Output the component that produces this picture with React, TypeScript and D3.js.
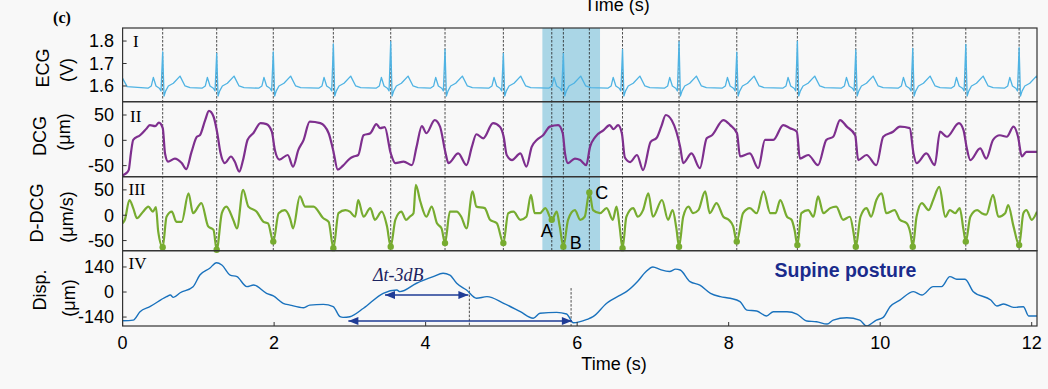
import React from 'react';
import * as d3 from 'd3';

const W = 1048;
const H = 389;
const tMax = 12.07;

// R-peak instants (s), shared by panels I-III
const rPeakTimes = [0.529, 1.242, 1.989, 2.782, 3.539, 4.256, 5.026, 5.818, 6.599, 7.345, 8.107, 8.907, 9.678, 10.43, 11.13, 11.834];
const ecgRPeaks = [1.752, 1.745, 1.752, 1.787, 1.797, 1.763, 1.745, 1.745, 1.763, 1.797, 1.75, 1.8, 1.76, 1.767, 1.785, 1.77];
const ecgBeatOffsets = [-0.194, -0.15, -0.123, -0.088, -0.044, -0.022, 0, 0.018, 0.04, 0.075, 0.141, 0.229, 0.295, 0.361];
const ecgBeatValues = [1.59, 1.6, 1.638, 1.6, 1.59, 1.578, NaN, 1.555, 1.578, 1.6, 1.612, 1.644, 1.6, 1.593];
const ecgLeadTimes = [0, 0.06];
const ecgLeadValues = [1.634, 1.597];

const dcgTimes = [0, 0.04, 0.08, 0.11, 0.14, 0.23, 0.32, 0.36, 0.43, 0.48, 0.53, 0.56, 0.6, 0.69, 0.78, 0.84, 0.91, 0.98, 1.02, 1.09, 1.14, 1.2, 1.25, 1.29, 1.35, 1.43, 1.48, 1.54, 1.59, 1.65, 1.73, 1.82, 1.9, 1.97, 2.01, 2.07, 2.18, 2.25, 2.32, 2.39, 2.47, 2.61, 2.72, 2.78, 2.84, 2.91, 3.0, 3.05, 3.11, 3.18, 3.27, 3.35, 3.4, 3.46, 3.54, 3.6, 3.71, 3.82, 3.88, 3.95, 4.01, 4.12, 4.19, 4.26, 4.3, 4.43, 4.54, 4.61, 4.67, 4.76, 4.89, 4.98, 5.03, 5.07, 5.14, 5.25, 5.33, 5.4, 5.47, 5.55, 5.64, 5.75, 5.81, 5.84, 5.88, 5.97, 6.04, 6.12, 6.17, 6.24, 6.35, 6.43, 6.48, 6.54, 6.59, 6.63, 6.7, 6.79, 6.87, 6.97, 7.05, 7.11, 7.17, 7.25, 7.31, 7.36, 7.4, 7.51, 7.62, 7.71, 7.78, 7.93, 8.02, 8.11, 8.15, 8.28, 8.39, 8.48, 8.59, 8.72, 8.81, 8.9, 8.94, 9.05, 9.18, 9.29, 9.38, 9.47, 9.56, 9.67, 9.71, 9.82, 9.95, 10.04, 10.17, 10.26, 10.39, 10.44, 10.48, 10.61, 10.72, 10.79, 10.88, 11.04, 11.1, 11.14, 11.19, 11.32, 11.4, 11.49, 11.58, 11.67, 11.76, 11.82, 11.87, 11.93, 12.07];
const dcgValues = [-69, -66, -59, -25, 1, 10, 24, 30, 28, 35, 24, -26, -42, -36, -45, -57, -23, 7, 10, 40, 58, 47, 14, -23, -45, -32, -42, -62, -39, 1, 15, 34, 32, 17, -19, -38, -29, -52, -19, 1, 37, 34, 14, -20, -58, -50, -36, -32, -29, 10, 14, 32, 24, 26, -26, -45, -42, -49, -13, 28, 14, 40, 27, -23, -45, -26, -49, -13, 12, 4, 34, 27, 7, -29, -39, -26, -52, -13, 1, 10, 27, 30, 14, -26, -45, -36, -39, -49, -13, 7, 20, 30, 22, 30, 14, -34, -43, -29, -59, -3, 5, 27, 50, 39, 17, -13, -45, -26, -55, 4, 10, 40, 30, 14, -32, -26, -55, 1, 1, 30, 24, 17, -36, -29, -49, 1, 7, 40, 27, 10, -39, -29, -49, 7, 17, 27, 24, -26, -45, -26, -49, 17, 7, 34, 20, -13, -39, -16, -36, 1, 10, 7, 27, 7, -32, -23, -23];

const ddcgTimes = [0, 0.03, 0.09, 0.14, 0.19, 0.27, 0.34, 0.4, 0.44, 0.47, 0.529, 0.58, 0.65, 0.71, 0.78, 0.87, 0.93, 1.04, 1.13, 1.2, 1.242, 1.31, 1.37, 1.46, 1.51, 1.59, 1.66, 1.77, 1.86, 1.92, 1.989, 2.06, 2.14, 2.21, 2.25, 2.34, 2.41, 2.52, 2.65, 2.72, 2.782, 2.85, 2.94, 3.0, 3.07, 3.11, 3.18, 3.27, 3.33, 3.42, 3.49, 3.539, 3.6, 3.68, 3.74, 3.79, 3.84, 3.87, 3.93, 4.01, 4.08, 4.15, 4.21, 4.256, 4.32, 4.41, 4.47, 4.54, 4.62, 4.67, 4.78, 4.85, 4.94, 5.026, 5.09, 5.16, 5.25, 5.33, 5.39, 5.44, 5.51, 5.58, 5.665, 5.73, 5.77, 5.818, 5.88, 5.97, 6.04, 6.1, 6.161, 6.21, 6.3, 6.39, 6.47, 6.52, 6.56, 6.599, 6.65, 6.74, 6.8, 6.87, 6.94, 7.0, 7.12, 7.2, 7.26, 7.31, 7.345, 7.4, 7.47, 7.53, 7.6, 7.69, 7.75, 7.84, 7.93, 8.0, 8.06, 8.107, 8.19, 8.28, 8.37, 8.46, 8.55, 8.62, 8.68, 8.77, 8.83, 8.87, 8.907, 8.96, 9.05, 9.12, 9.18, 9.25, 9.34, 9.42, 9.51, 9.6, 9.65, 9.678, 9.74, 9.82, 9.88, 9.95, 10.02, 10.08, 10.19, 10.26, 10.35, 10.4, 10.43, 10.48, 10.55, 10.64, 10.7, 10.78, 10.86, 10.92, 10.99, 11.05, 11.1, 11.13, 11.19, 11.28, 11.34, 11.4, 11.49, 11.56, 11.65, 11.69, 11.76, 11.834, 11.89, 11.93, 12.0, 12.07];
const ddcgValues = [-16, -9, 30, 14, -6, 7, 17, 7, 16, -32, -63, -3, 7, -13, -13, 43, 4, 24, -22, -29, -68, 4, 17, -9, -26, 50, 17, 7, -13, -16, -52, 4, 10, -6, -26, 37, 17, 17, -6, -13, -65, 4, 10, 7, -3, 30, -3, 14, -9, 7, -22, -62, -9, 7, -9, -3, 4, 60, 27, -3, 17, -16, -26, -55, 7, 7, -3, -26, 47, 17, 14, -9, -16, -55, 4, 7, -9, -3, 40, 4, 4, 14, -9, 7, -22, -62, -9, 10, -9, -3, 45, 10, 4, 14, -9, 17, -22, -65, -3, 14, -3, 10, 43, -3, 30, -9, 10, -26, -62, -3, 17, 4, 10, 47, 4, 24, -3, -9, -22, -52, 4, 14, 4, 47, 4, 4, 30, -3, -9, -29, -59, 4, 10, -3, 37, 4, 14, 17, -9, -3, -36, -62, -3, 14, -3, 30, 43, 4, 10, -9, -16, -36, -62, -3, 24, 10, 30, 56, -3, 10, 4, 14, -29, -52, -3, 10, 4, 1, 40, -3, 4, 20, -22, -59, 4, 10, -9, 7];
const ddcgDotValues = [-63, -68, -52, -65, -62, -55, -55, -62, -65, -62, -52, -59, -62, -62, -52, -59];

// extra marked instants inside the highlighted beat
const markTimes = [5.665, 6.161];
const markValues = [-9, 45];
const shadeStart = 5.541;
const shadeEnd = 6.302;

const dispTimes = [0, 0.14, 0.23, 0.36, 0.58, 0.63, 0.67, 0.76, 0.93, 1.02, 1.15, 1.24, 1.31, 1.42, 1.51, 1.64, 1.73, 1.9, 1.99, 2.12, 2.21, 2.39, 2.47, 2.65, 2.78, 2.87, 2.91, 3.0, 3.18, 3.44, 3.62, 3.66, 3.88, 4.1, 4.23, 4.32, 4.41, 4.54, 4.67, 4.81, 5.03, 5.25, 5.42, 5.51, 5.73, 5.86, 5.95, 6.13, 6.21, 6.39, 6.57, 6.65, 6.8, 6.9, 7.0, 7.1, 7.22, 7.3, 7.36, 7.49, 7.62, 7.76, 7.89, 8.02, 8.15, 8.24, 8.37, 8.5, 8.59, 8.77, 8.9, 9.03, 9.16, 9.3, 9.38, 9.56, 9.73, 9.82, 9.95, 10.04, 10.13, 10.26, 10.44, 10.55, 10.7, 10.81, 10.92, 11.01, 11.12, 11.23, 11.46, 11.54, 11.63, 11.76, 11.89, 11.96, 12.07];
const dispValues = [-161, -157, -110, -82, -26, -17, -30, -4, 30, 95, 133, 164, 151, 95, 86, 30, 39, -7, -22, -63, -73, -88, -73, -69, -82, -138, -142, -138, -91, -7, 11, 2, 49, 86, 105, 95, 49, 11, -35, -26, -63, -110, -147, -119, -114, -123, -172, -153, -138, -63, -17, 2, 60, 110, 140, 125, 115, 128, 123, 58, 39, -7, -26, -35, -54, -101, -106, -134, -110, -110, -123, -162, -166, -179, -157, -144, -157, -190, -157, -142, -82, -45, 2, -17, 30, 30, 86, 71, 71, 2, -45, -78, -67, -86, -82, -134, -134];
// -3 dB width and full width arrows (s, µm)
const arrowStarts = [3.464, 2.98];
const arrowEnds = [4.564, 5.93];
const arrowLevels = [-17, -162];
const dispMarkTimes = [4.577, 5.92];
const dispMarkTops = [30, 22];

const xTicks = [0, 2, 4, 6, 8, 10, 12];
const ecgTicks = [1.6, 1.7, 1.8];
const dcgTicks = [-50, 0, 50];
const ddcgTicks = [-50, 0, 50];
const dispTicks = [-140, 0, 140];

const FONT = '"Liberation Sans", Arial, sans-serif';
const SERIF = '"Liberation Serif", "Times New Roman", serif';

const x = d3.scaleLinear().domain([0, tMax]).range([122.6, 1037]);

const panels = [
  { id: 'I', top: 28, bottom: 101.7, domain: [1.53, 1.858], ticks: ecgTicks, fmt: (v: number) => v.toFixed(1), label: ['ECG', '(V)'], lx: [43, 67], ly: [68, 70], tagX: 133, tagY: 46.7 },
  { id: 'II', top: 101.7, bottom: 176.7, domain: [-71.9, 76.3], ticks: dcgTicks, fmt: (v: number) => String(v), label: ['DCG', '(μm)'], lx: [40, 64], ly: [136, 132], tagX: 130, tagY: 121.7 },
  { id: 'III', top: 176.7, bottom: 250.7, domain: [-70, 76], ticks: ddcgTicks, fmt: (v: number) => String(v), label: ['D-DCG', '(μm/s)'], lx: [37, 67], ly: [213, 217], tagX: 128.5, tagY: 195 },
  { id: 'IV', top: 250.7, bottom: 326, domain: [-190, 231], ticks: dispTicks, fmt: (v: number) => String(v), label: ['Disp.', '(μm)'], lx: [40, 69], ly: [290, 298], tagX: 128.5, tagY: 269 },
];
const yScales = panels.map(p => d3.scaleLinear().domain(p.domain).range([p.bottom, p.top]));
const [yEcg, yDcg, yDdcg, yDisp] = yScales;

type Pt = [number, number];
const zip = (ts: number[], vs: number[]): Pt[] => ts.map((t, i) => [t, vs[i]]);

const ecgPoints: Pt[] = zip(ecgLeadTimes, ecgLeadValues);
rPeakTimes.forEach((r, i) => {
  ecgBeatOffsets.forEach((o, j) => {
    const t = r + o;
    if (t > tMax + 0.1) return;
    ecgPoints.push([t, isNaN(ecgBeatValues[j]) ? ecgRPeaks[i] : ecgBeatValues[j]]);
  });
});

const lineFor = (y: d3.ScaleLinear<number, number>, curve: d3.CurveFactory) =>
  d3.line<Pt>().x(d => x(d[0])).y(d => y(d[1])).curve(curve);

const ecgPath = lineFor(yEcg, d3.curveLinear)(ecgPoints) || '';
const dcgPath = lineFor(yDcg, d3.curveMonotoneX)(zip(dcgTimes, dcgValues)) || '';
const ddcgPath = lineFor(yDdcg, d3.curveMonotoneX)(zip(ddcgTimes, ddcgValues)) || '';
const dispPath = lineFor(yDisp, d3.curveMonotoneX)(zip(dispTimes, dispValues)) || '';

const ARROW = '#1f3c96';
const AXIS = '#333';

export default function App() {
  const left = x(0);
  const right = x(tMax);
  const plotTop = panels[0].top;
  const upperBottom = panels[2].bottom;
  const colors = ['#4fb3e3', '#7e2f8e', '#77ac30', '#1a72bd'];
  const paths = [ecgPath, dcgPath, ddcgPath, dispPath];
  const widths = [1.3, 2.2, 2.2, 1.4];

  return (
    <svg width={W} height={H} style={{ position: 'absolute', left: 0, top: 0, background: '#f8f8f8' }}
      fontFamily={FONT}>
      <defs>
        {panels.map((p, i) => (
          <clipPath id={`clip${i}`} key={i}>
            <rect x={left} y={p.top} width={right - left} height={p.bottom - p.top} />
          </clipPath>
        ))}
        <marker id="ah" viewBox="0 0 10 8" refX="10" refY="4" markerWidth="11" markerHeight="8"
          markerUnits="userSpaceOnUse" orient="auto-start-reverse">
          <path d="M0,0 L10,4 L0,8 Z" fill={ARROW} />
        </marker>
      </defs>

      <text x={62} y={23} fontFamily={SERIF} fontWeight="bold" fontSize={16} textAnchor="middle">(c)</text>
      <text x={617} y={11} fontSize={18} textAnchor="middle">Time (s)</text>

      {/* highlighted beat */}
      <rect x={x(shadeStart)} y={plotTop} width={x(shadeEnd) - x(shadeStart)} height={upperBottom - plotTop}
        fill="#aad6e6" />

      {/* R-peak and marker lines */}
      {[...rPeakTimes, ...markTimes].map((t, i) => (
        <line key={`v${i}`} x1={x(t)} x2={x(t)} y1={plotTop} y2={upperBottom}
          stroke="#222" strokeWidth={0.8} strokeDasharray="2.5,1.5" />
      ))}
      {dispMarkTimes.map((t, i) => (
        <line key={`dm${i}`} x1={x(t)} x2={x(t)} y1={yDisp(dispMarkTops[i])} y2={panels[3].bottom}
          stroke="#222" strokeWidth={0.8} strokeDasharray="2.5,1.5" />
      ))}

      {paths.map((d, i) => (
        <path key={`p${i}`} d={d} fill="none" stroke={colors[i]} strokeWidth={widths[i]}
          strokeLinejoin="round" clipPath={`url(#clip${i})`} />
      ))}

      {rPeakTimes.map((t, i) => (
        <circle key={`d${i}`} cx={x(t)} cy={yDdcg(ddcgDotValues[i])} r={3.2} fill={colors[2]} />
      ))}
      {markTimes.map((t, i) => (
        <circle key={`m${i}`} cx={x(t)} cy={yDdcg(markValues[i])} r={3.2} fill={colors[2]} />
      ))}
      <text x={546.7} y={236.5} fontSize={18} textAnchor="middle">A</text>
      <text x={575.7} y={248.5} fontSize={18} textAnchor="middle">B</text>
      <text x={601.7} y={198.5} fontSize={18} textAnchor="middle">C</text>

      {/* arrows in panel IV */}
      {arrowStarts.map((s, i) => (
        <line key={`a${i}`} x1={x(s)} x2={x(arrowEnds[i])} y1={yDisp(arrowLevels[i])} y2={yDisp(arrowLevels[i])}
          stroke={ARROW} strokeWidth={1.6} markerStart="url(#ah)" markerEnd="url(#ah)" />
      ))}
      <text x={373} y={281} fontFamily={SERIF} fontStyle="italic" fontSize={18} fill="#1c2360">Δt-3dB</text>
      <text x={845.5} y={277} fontSize={19.5} fontWeight="bold" fill="#1a2b8c" textAnchor="middle">Supine posture</text>

      {/* frames, ticks, labels */}
      {panels.map((p, i) => (
        <g key={`ax${i}`}>
          <rect x={left} y={p.top} width={right - left} height={p.bottom - p.top} fill="none"
            stroke={AXIS} strokeWidth={1.2} />
          {p.ticks.map(v => (
            <g key={v}>
              <line x1={left} x2={left + 4} y1={yScales[i](v)} y2={yScales[i](v)} stroke={AXIS} strokeWidth={1} />
              <text x={114} y={yScales[i](v)} dy="0.35em" fontSize={18} textAnchor="end">{p.fmt(v)}</text>
            </g>
          ))}
          <text x={p.tagX} y={p.tagY} fontFamily={SERIF} fontSize={17}>{p.id}</text>
          {p.label.map((s, j) => (
            <text key={j} transform={`translate(${p.lx[j]},${p.ly[j]}) rotate(-90)`} dy="0.35em"
              fontSize={18} textAnchor="middle">{s}</text>
          ))}
        </g>
      ))}
      {xTicks.map(t => (
        <g key={`xt${t}`}>
          <line x1={x(t)} x2={x(t)} y1={panels[3].bottom} y2={panels[3].bottom - 4} stroke={AXIS} strokeWidth={1} />
          <text x={x(t)} y={348.5} fontSize={18} textAnchor="middle">{t}</text>
        </g>
      ))}
      <text x={614} y={369.5} fontSize={18} textAnchor="middle">Time (s)</text>
    </svg>
  );
}
